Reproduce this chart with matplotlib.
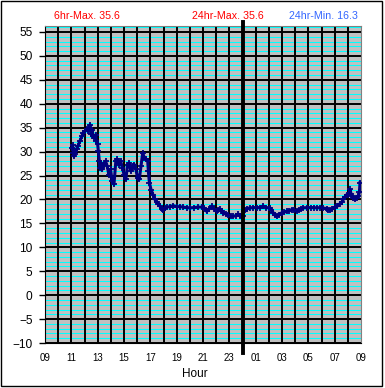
import numpy as np
import matplotlib
matplotlib.use("Agg")
import matplotlib.pyplot as plt
from matplotlib.patches import Rectangle
from matplotlib.ticker import MultipleLocator

plt.rcParams['font.family'] = ['Liberation Sans', 'DejaVu Sans']

# hours since 09:00 on day one, and temperature readings
HOURS = [2.05, 2.10, 2.15, 2.20, 2.28, 2.40, 2.50, 2.65, 2.80, 2.90,
         3.05, 3.20, 3.30, 3.42, 3.50, 3.58, 3.65, 3.75, 3.85, 3.90,
         4.00, 4.05, 4.12, 4.18, 4.28, 4.35, 4.48, 4.60, 4.72, 4.85,
         4.98, 5.10, 5.24, 5.38, 5.50, 5.62, 5.75, 5.88, 6.00, 6.14,
         6.27, 6.40, 6.52, 6.65, 6.78, 6.90, 7.03, 7.16, 7.29, 7.42,
         7.55, 7.68, 7.80, 7.85, 7.93, 8.06, 8.20, 8.35, 8.48, 8.60,
         8.73, 8.85, 8.98, 9.10, 9.24, 9.50, 9.74, 10.00, 10.25, 10.50,
         10.75, 11.00, 11.30, 11.60, 11.90, 12.10, 12.28, 12.45, 12.66, 12.85,
         13.04, 13.15, 13.29, 13.42, 13.54, 13.75, 13.92, 14.10, 14.30, 14.50,
         14.68, 14.80, 14.93, 15.00, 15.10, 15.19, 15.35, 15.57, 15.80, 16.10,
         16.33, 16.58, 16.80, 17.08, 17.20, 17.34, 17.47, 17.60, 17.75, 17.97,
         18.15, 18.35, 18.55, 18.73, 18.90, 19.11, 19.30, 19.45, 19.62, 19.90,
         20.20, 20.40, 20.63, 20.90, 21.15, 21.39, 21.50, 21.64, 21.80, 22.02,
         22.20, 22.40, 22.55, 22.66, 22.80, 22.91, 23.05, 23.17, 23.24, 23.30,
         23.42, 23.55, 23.68, 23.80, 23.88, 23.92]
TEMPS = [30.8, 31.3, 29.8, 29.0, 29.5, 30.5, 31.2, 32.2, 33.2, 33.8,
         34.3, 34.8, 34.3, 35.6, 33.6, 34.6, 33.2, 32.9, 33.5, 32.2,
         31.5, 30.1, 28.0, 26.6, 27.6, 26.3, 27.3, 28.0, 27.0, 25.2,
         26.3, 23.8, 23.2, 28.0, 28.4, 27.3, 28.0, 26.6, 25.2, 24.2,
         27.3, 27.6, 25.9, 27.0, 27.3, 26.3, 24.5, 24.2, 27.0, 29.7,
         28.7, 28.4, 28.0, 25.9, 23.5, 22.0, 21.0, 20.0, 19.4, 19.0,
         18.6, 18.0, 17.9, 18.3, 18.4, 18.5, 18.7, 18.5, 18.5, 18.4,
         18.3, 18.25, 18.3, 18.4, 18.4, 18.2, 17.5, 18.0, 18.6, 18.0,
         17.5, 17.9, 18.0, 17.6, 17.2, 16.9, 16.7, 16.5, 16.5, 16.6,
         16.9, 16.6, 16.4, 16.6, 17.6, 17.9, 18.1, 18.25, 18.3, 18.3,
         18.3, 18.6, 18.3, 18.25, 17.8, 17.2, 16.7, 16.5, 16.8, 17.2,
         17.3, 17.55, 17.6, 17.9, 17.8, 17.55, 17.8, 18.1, 18.25, 18.3,
         18.3, 18.3, 18.25, 18.3, 18.2, 18.1, 17.9, 17.7, 18.0, 18.4,
         18.6, 19.1, 19.5, 20.0, 20.6, 21.0, 20.9, 22.1, 21.2, 20.7,
         20.2, 20.0, 20.3, 20.7, 21.5, 23.5]

X_TICKS = list(range(0, 25, 2))
X_LABELS = ["09", "11", "13", "15", "17", "19", "21", "23",
            "01", "03", "05", "07", "09"]
Y_TICKS = list(range(-10, 56, 5))
MIDNIGHT = 15

TITLES = [("6hr-Max. 35.6", 54, "#FF0000"),
          ("24hr-Max. 35.6", 192, "#FF0000"),
          ("24hr-Min. 16.3", 289, "#3366FF")]

W, H = 385, 388
fig = plt.figure(figsize=(W / 100, H / 100), dpi=100)
ax = fig.add_axes([45 / W, 1 - 343 / H, 316 / W, 317 / H])

ax.set_facecolor("#C0C0C0")
ax.set_xlim(0, 24)
ax.set_ylim(-10, 56.25)

# cyan minor lines, black major lines, black hour lines on top of them
ax.set_yticks(Y_TICKS)
ax.yaxis.set_minor_locator(MultipleLocator(1))
ax.grid(which='minor', axis='y', color='#00FFFF', lw=0.75)
ax.grid(which='major', axis='y', color='black', lw=1.4)
ax.set_axisbelow(True)
for hr in range(1, 24):
    ax.axvline(hr, color='black', lw=1.4, zorder=1.5)

ax.plot(HOURS, TEMPS, color='#000080', lw=2.2, marker='+', ms=5, mew=1.3,
        zorder=3)

ax.axvline(MIDNIGHT, ymin=-0.032, ymax=1.013, color='black', lw=2.8,
           clip_on=False, zorder=4)

ax.set_xticks(X_TICKS, labels=X_LABELS)
ax.tick_params(axis='x', which='both', length=0, pad=7, labelsize=7)
ax.tick_params(axis='y', which='major', length=4, width=1, pad=5,
               labelsize=8.6, direction='out')
ax.tick_params(axis='y', which='minor', length=0)

for side in ('top', 'right'):
    ax.spines[side].set_color('#808080')
for side in ('left', 'bottom'):
    ax.spines[side].set_color('black')

fig.text(194.5 / W, 1 - 374 / H, "Hour", ha='center', va='center',
         fontsize=8.5)
for txt, x0, col in TITLES:
    fig.text(x0 / W, 1 - 16 / H, txt, ha='left', va='center', fontsize=7.7,
             color=col)

fig.patches.append(Rectangle((1 / W, 1 - 386 / H), 381 / W, 385 / H,
                             transform=fig.transFigure, fill=False,
                             edgecolor='black', lw=1))

fig.savefig("out.png", dpi=100)
